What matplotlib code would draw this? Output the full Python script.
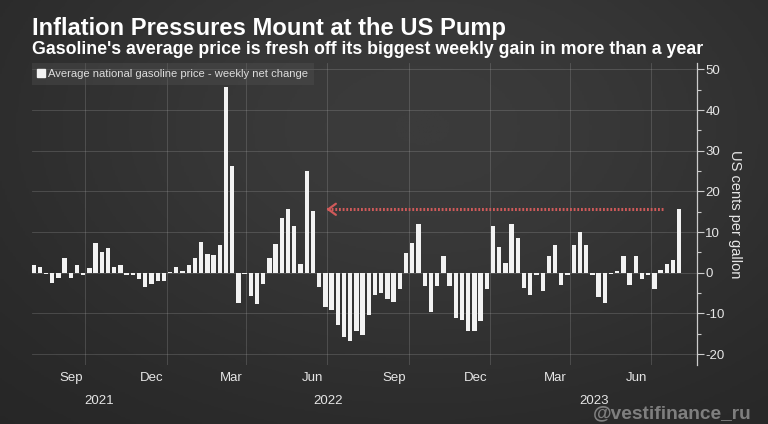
import matplotlib
matplotlib.use('Agg')
import matplotlib.pyplot as plt
import matplotlib.dates as mdates
from matplotlib.colors import LinearSegmentedColormap
from matplotlib.lines import Line2D
import numpy as np
import pandas as pd

plt.rcParams['font.family'] = ['Liberation Sans', 'DejaVu Sans']
plt.rcParams['axes.unicode_minus'] = False

# Weekly net change in average US gasoline price (cents per gallon)
start_week = '2021-08-04'
weekly_change = [
    2.0, 1.3, -0.3, -2.5, -1.2, 3.7, -1.2, 1.8, -0.5, 1.2,
    7.4, 5.1, 6.2, 1.3, 2.0, -0.5, -0.5, -1.5, -3.6, -2.8,
    -2.1, -2.1, 0.2, 1.5, 0.5, 2.0, 3.5, 7.6, 4.7, 4.4,
    6.7, 45.8, 26.2, -7.4, -0.4, -5.8, -7.6, -2.8, 3.5, 7.1,
    13.5, 15.6, 11.4, 2.2, 24.9, 15.1, -3.4, -8.4, -9.1, -12.9,
    -15.8, -16.7, -14.4, -15.4, -10.3, -5.6, -5.1, -6.5, -7.2, -3.9,
    4.8, 7.4, 12.1, -3.2, -9.6, -3.2, 4.2, -3.2, -11.1, -11.6,
    -14.4, -14.3, -12.0, -4.0, 11.5, 6.4, 2.5, 12.0, 8.5, -3.8,
    -5.4, -0.5, -4.5, 4.0, 6.8, -3.1, -0.5, 6.7, 9.9, 6.9,
    -0.5, -5.9, -7.4, -0.2, 0.4, 4.2, -3.1, 4.2, -1.6, -0.5,
    -4.0, 0.7, 2.1, 3.1, 15.6,
]
month_ticks = ['2021-09-15', '2021-12-15', '2022-03-15', '2022-06-15',
               '2022-09-15', '2022-12-15', '2023-03-15', '2023-06-15']
quarter_lines = ['2021-10-01', '2022-01-01', '2022-04-01', '2022-07-01',
                 '2022-10-01', '2023-01-01', '2023-04-01', '2023-07-01']
years = [2021, 2022, 2023]
y_ticks = [-20, -10, 0, 10, 20, 30, 40, 50]

title = 'Inflation Pressures Mount at the US Pump'
subtitle = "Gasoline's average price is fresh off its biggest weekly gain in more than a year"
legend_label = 'Average national gasoline price - weekly net change'

dates = pd.date_range(start_week, periods=len(weekly_change), freq='7D')
values = np.array(weekly_change)

bg = '#2e2e2e'
fg = '#e6e6e6'

fig = plt.figure(figsize=(7.68, 4.24), dpi=100, facecolor=bg)

# soft chalkboard shading behind everything
bg_ax = fig.add_axes([0, 0, 1, 1], zorder=-5)
gy, gx = np.mgrid[0:1:200j, 0:1:300j]
shade = np.exp(-(((gx - 0.55) / 0.6) ** 2 + ((gy - 0.3) / 0.7) ** 2))
board = LinearSegmentedColormap.from_list('board', ['#232323', '#3b3b3b'])
bg_ax.imshow(shade, cmap=board, vmin=0, vmax=1, aspect='auto',
             extent=[0, 1, 0, 1], origin='upper')
bg_ax.axis('off')

ax = fig.add_axes([0.0413, 0.1392, 0.8663, 0.7123])
ax.set_facecolor('none')

ax.bar(dates, values, width=4.9, color='#f2f2f2', zorder=3,
       label=legend_label)

ax.set_ylim(-22.7, 51.6)
ax.set_xlim(dates[0] - pd.Timedelta(days=2), dates[-1] + pd.Timedelta(days=20))

# right-hand axis
ax.yaxis.tick_right()
ax.yaxis.set_label_position('right')
ax.set_yticks(y_ticks)
ax.set_yticks(np.arange(-20, 51, 5), minor=True)
ax.tick_params(axis='y', which='major', length=5, width=0.8, color='#cccccc',
               labelcolor=fg, labelsize=9.5, pad=1)
ax.tick_params(axis='y', which='minor', length=3, width=0.8, color='#cccccc')
for side in ['top', 'left', 'bottom']:
    ax.spines[side].set_visible(False)
ax.spines['right'].set_color('#cccccc')
ax.spines['right'].set_linewidth(0.9)

ax.set_ylabel('US cents per gallon', color=fg, fontsize=10.5, rotation=270,
              va='center', ha='center')
ax.yaxis.set_label_coords(1.057, 0.5)

# x axis: month labels mid-month, gridlines at quarter starts
ax.set_xticks(pd.to_datetime(month_ticks))
ax.xaxis.set_major_formatter(mdates.DateFormatter('%b'))
ax.set_xticks(pd.to_datetime(quarter_lines), minor=True)
ax.tick_params(axis='x', which='both', length=0, labelcolor=fg, labelsize=9.5,
               pad=5)

ax.grid(True, axis='y', which='major', color='#bbbbbb', alpha=0.25, lw=0.6,
        zorder=0)
ax.grid(True, axis='x', which='minor', color='#bbbbbb', alpha=0.25, lw=0.6,
        zorder=0)

# year labels centred on the visible span of each year
x0, x1 = [mdates.num2date(v).replace(tzinfo=None) for v in ax.get_xlim()]
for yr in years:
    a = max(pd.Timestamp(f'{yr}-01-01'), pd.Timestamp(x0))
    b = min(pd.Timestamp(f'{yr + 1}-01-01'), pd.Timestamp(x1))
    mid = a + (b - a) / 2
    ax.annotate(str(yr), xy=(mid, 0), xycoords=('data', 'axes fraction'),
                xytext=(0, -26), textcoords='offset points', ha='center',
                va='center', color=fg, fontsize=9.5)

# dotted red arrow back to the last comparable gain
arrow_y = values[-1]
arrow_from = dates[-1] - pd.Timedelta(days=18)
arrow_to = dates[45] + pd.Timedelta(days=12)
ax.plot([arrow_from, arrow_to + pd.Timedelta(days=4)], [arrow_y, arrow_y],
        color='#d05a5a', lw=2.2, linestyle=(0, (0.6, 0.6)), zorder=4)
ax.annotate('', xy=(arrow_to, arrow_y),
            xytext=(arrow_to + pd.Timedelta(days=10), arrow_y),
            arrowprops=dict(arrowstyle='->,head_length=0.55,head_width=0.4',
                            color='#d05a5a', lw=1.6), zorder=4)

# legend in a translucent box at the top left
handle = Line2D([], [], marker='s', linestyle='none', color='#f2f2f2',
                markersize=6)
leg = ax.legend([handle], [legend_label], loc='upper left',
                bbox_to_anchor=(0, 1), borderaxespad=0, frameon=True,
                fancybox=False, fontsize=8.5, handlelength=0.6,
                handletextpad=0.3, borderpad=0.5, labelcolor='#dddddd')
leg.get_frame().set_facecolor('#555555')
leg.get_frame().set_alpha(0.35)
leg.get_frame().set_edgecolor('none')

t1 = fig.text(31.5 / 768, 1 - 29 / 424, title, color='white',
              fontsize=15, fontweight='bold', va='center', ha='left')
t2 = fig.text(31.5 / 768, 1 - 49.5 / 424, subtitle, color='white',
              fontsize=12, fontweight='bold', va='center', ha='left')
wm = fig.text(752 / 768, 1 - 414 / 424, '@vestifinance_ru', color='#959595',
              fontsize=13, fontweight='bold', va='center', ha='right',
              alpha=0.8)

# scale texts so their widths match the original layout
fig.canvas.draw()
renderer = fig.canvas.get_renderer()
for txt, target in [(t1, 476), (t2, 668), (wm, 158),
                    (leg.get_texts()[0], 260)]:
    w = txt.get_window_extent(renderer).width
    txt.set_fontsize(txt.get_fontsize() * target / w)

fig.savefig('out.png', dpi=100, facecolor=fig.get_facecolor())
